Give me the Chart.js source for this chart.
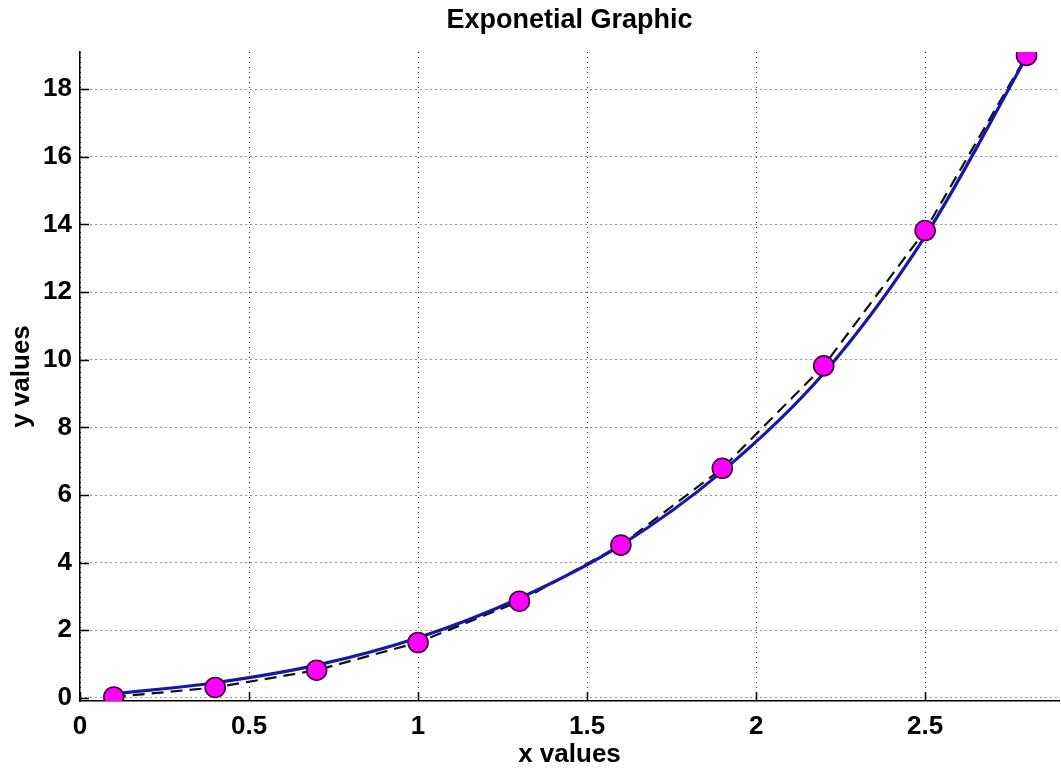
<!DOCTYPE html>
<html>
<head>
<meta charset="utf-8">
<script src="https://cdn.jsdelivr.net/npm/chart.js@4/dist/chart.umd.min.js"></script>
<style>
html,body{margin:0;padding:0;background:#fff;overflow:hidden;}
#wrap{width:1061px;height:770px;position:relative;}
</style>
</head>
<body>
<div id="wrap"><canvas id="c" width="1061" height="770"></canvas></div>
<script>
// Data
const xValues = [0.1, 0.4, 0.7, 1.0, 1.3, 1.6, 1.9, 2.2, 2.5, 2.8];
const yMeasured = [0.03, 0.31, 0.82, 1.64, 2.86, 4.52, 6.79, 9.82, 13.82, 19.0];
const yFitted = [0.12, 0.45, 0.97, 1.78, 2.95, 4.52, 6.7, 9.6, 13.65, 18.95];
const xTickLabels = ['0', '0.5', '1', '1.5', '2', '2.5'];
const yTickLabels = ['0','2','4','6','8','10','12','14','16','18'];
const titleText = 'Exponetial Graphic';
const xAxisLabel = 'x values';
const yAxisLabel = 'y values';

const FONT = "'Liberation Sans', Arial, Helvetica, sans-serif";

const toPts = (xs, ys) => xs.map((x, i) => ({x: x, y: ys[i]}));

// MATLAB-style inward tick marks, positioned by the library's scales
const inwardTicks = {
  id: 'inwardTicks',
  afterDatasetsDraw(chart) {
    const {ctx, chartArea, scales} = chart;
    ctx.save();
    ctx.strokeStyle = '#000';
    ctx.lineWidth = 1.5;
    ctx.beginPath();
    scales.x.ticks.forEach(t => {
      const px = Math.round(scales.x.getPixelForValue(t.value)) + 0.5;
      ctx.moveTo(px, chartArea.bottom);
      ctx.lineTo(px, chartArea.bottom - 9);
    });
    scales.y.ticks.forEach(t => {
      const py = Math.round(scales.y.getPixelForValue(t.value)) + 0.5;
      ctx.moveTo(chartArea.left, py);
      ctx.lineTo(chartArea.left + 9, py);
    });
    ctx.stroke();
    ctx.restore();
  }
};

// Title centred over the axes (as in the reference)
const axesTitle = {
  id: 'axesTitle',
  afterDraw(chart) {
    const {ctx, chartArea} = chart;
    ctx.save();
    ctx.fillStyle = '#000';
    ctx.font = 'bold 27px ' + FONT;
    ctx.textAlign = 'center';
    ctx.textBaseline = 'middle';
    ctx.fillText(titleText, (chartArea.left + chartArea.right) / 2, 21);
    ctx.restore();
  }
};

new Chart(document.getElementById('c'), {
  type: 'scatter',
  data: {
    datasets: [
      {
        label: 'data points',
        data: toPts(xValues, yMeasured),
        showLine: false,
        pointRadius: 10,
        pointHoverRadius: 10,
        pointBackgroundColor: '#ff00ff',
        pointBorderColor: '#3c0030',
        pointBorderWidth: 1.6,
        order: 0
      },
      {
        label: 'fit',
        data: toPts(xValues, yFitted),
        showLine: true,
        borderColor: '#1818a8',
        borderWidth: 3.2,
        pointRadius: 0,
        cubicInterpolationMode: 'monotone',
        fill: false,
        order: 1
      },
      {
        label: 'linear',
        data: toPts(xValues, yMeasured),
        showLine: true,
        borderColor: '#111',
        borderWidth: 2.2,
        borderDash: [12, 7],
        pointRadius: 0,
        tension: 0,
        fill: false,
        order: 2
      }
    ]
  },
  options: {
    responsive: false,
    animation: false,
    devicePixelRatio: 1,
    layout: {autoPadding: false, padding: {left: 0, right: 2, top: 52, bottom: 0}},
    plugins: {
      legend: {display: false},
      tooltip: {enabled: false},
      title: {display: false}
    },
    scales: {
      x: {
        type: 'linear',
        min: 0,
        max: 2.896,
        afterFit(s) { s.height = 69; },
        border: {display: true, color: '#000', width: 1.5, dash: [1, 4]},
        grid: {
          color: '#222',
          lineWidth: 1,
          drawTicks: false
        },
        ticks: {
          stepSize: 0.5,
          includeBounds: false,
          padding: 10,
          color: '#000',
          font: {family: FONT, size: 26, weight: 'bold'},
          maxRotation: 0,
          callback: (v) => xTickLabels.includes(String(v)) ? String(v) : ''
        },
        title: {
          display: true,
          text: xAxisLabel,
          color: '#000',
          font: {family: FONT, size: 26, weight: 'bold', lineHeight: 1.2},
          padding: {top: 0, bottom: 0}
        }
      },
      y: {
        type: 'linear',
        min: -0.09,
        max: 19.1,
        afterFit(s) { s.width = 80; },
        border: {display: true, color: '#000', width: 1.5, dash: [1, 4]},
        grid: {
          color: '#222',
          lineWidth: 1,
          drawTicks: false
        },
        ticks: {
          stepSize: 2,
          includeBounds: false,
          padding: 8,
          color: '#000',
          font: {family: FONT, size: 26, weight: 'bold'},
          callback: (v) => yTickLabels.includes(String(v)) ? String(v) : ''
        },
        title: {
          display: true,
          text: yAxisLabel,
          color: '#000',
          font: {family: FONT, size: 26, weight: 'bold', lineHeight: 1.2},
          padding: {top: 6, bottom: 0}
        }
      }
    }
  },
  plugins: [inwardTicks, axesTitle]
});
</script>
</body>
</html>
